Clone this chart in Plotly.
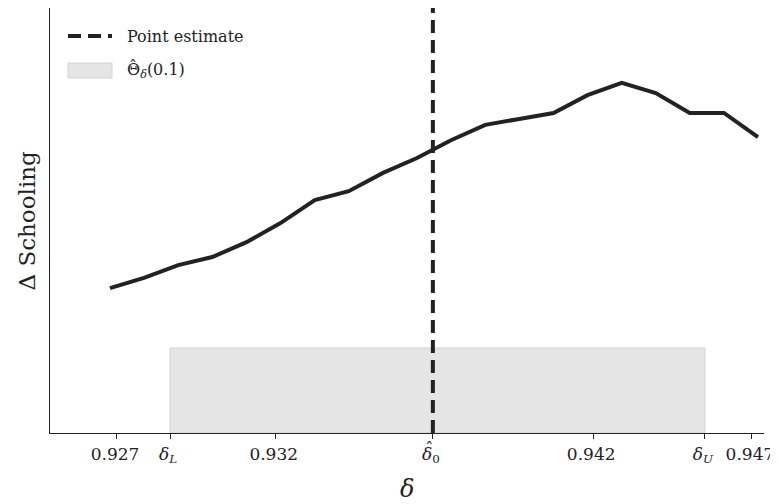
import plotly.graph_objects as go

# data
delta = [0.92678, 0.92785, 0.92893, 0.93000, 0.93108, 0.93215, 0.93323, 0.93430,
         0.93538, 0.93645, 0.93752, 0.93860, 0.93967, 0.94075, 0.94182, 0.94290,
         0.94397, 0.94504, 0.94612, 0.94719]
schooling = [0.341, 0.365, 0.395, 0.414, 0.449, 0.494, 0.548, 0.569, 0.612, 0.647,
             0.689, 0.725, 0.739, 0.753, 0.795, 0.824, 0.800, 0.753, 0.753, 0.696]
delta_L = 0.92867
delta_0 = 0.93695
delta_U = 0.94552
band_top = 0.20
y_range = [0.0, 1.0]
x_range = [0.92489, 0.94738]
tick_vals = [0.927, delta_L, 0.932, delta_0, 0.942, delta_U, 0.947]
tick_text = ["0.927", "<i>δ</i><sub><i>L</i></sub>", "0.932", "<i>δ</i><sub>0</sub>",
             "0.942", "<i>δ</i><sub><i>U</i></sub>", "0.947"]
legend_labels = ["Point estimate", "Θ<sub><i>δ</i></sub>(0.1)"]

FONT = "'DejaVu Serif', 'Liberation Serif', serif"
DARK = "#222222"
TXT = "#222222"

fig = go.Figure()

fig.add_trace(go.Scatter(
    x=[delta_L, delta_U, delta_U, delta_L, delta_L],
    y=[y_range[0], y_range[0], band_top, band_top, y_range[0]],
    fill="toself", fillcolor="#e5e5e5", mode="lines",
    line=dict(color="#d2d2d2", width=1), showlegend=False, hoverinfo="skip"))

fig.add_trace(go.Scatter(
    x=delta, y=schooling, mode="lines",
    line=dict(color=DARK, width=4), showlegend=False))

fig.add_trace(go.Scatter(
    x=[delta_0, delta_0], y=y_range, mode="lines",
    line=dict(color=DARK, width=4, dash="13px,7px"), showlegend=False))

# plot area in figure pixels: x 42..756, y 0..425
PW, PH, PL = 714.0, 425.0, 42.0
def px(xp):
    return (xp - PL) / PW
def py(yp):
    return 1 - yp / PH

shapes = [
    dict(type="line", xref="paper", yref="paper", x0=px(60), x1=px(104), y0=py(28), y1=py(28),
         line=dict(color=DARK, width=4, dash="13px,7px")),
    dict(type="rect", xref="paper", yref="paper", x0=px(60), x1=px(104), y0=py(70), y1=py(55),
         fillcolor="#e5e5e5", line=dict(color="#d2d2d2", width=1)),
]

annotations = [
    dict(text=legend_labels[0], xref="paper", yref="paper", x=px(117), y=py(28),
         xanchor="left", yanchor="middle", showarrow=False,
         font=dict(family=FONT, size=16, color=TXT)),
    dict(text=legend_labels[1], xref="paper", yref="paper", x=px(117), y=py(62),
         xanchor="left", yanchor="middle", showarrow=False,
         font=dict(family=FONT, size=16, color=TXT)),
    # hat over Theta
    dict(text="ˆ", xref="paper", yref="paper", x=px(125), y=py(58),
         xanchor="center", yanchor="middle", showarrow=False,
         font=dict(family=FONT, size=16, color=TXT)),
    # hat over delta_0 tick label
    dict(text="ˆ", xref="x", yref="paper", x=delta_0, y=0, yshift=-15, xshift=-3,
         xanchor="center", yanchor="middle", showarrow=False,
         font=dict(family=FONT, size=17, color=TXT)),
    dict(text="<i>δ</i>", xref="paper", yref="paper", x=0.5, y=0, yshift=-56,
         xanchor="center", yanchor="middle", showarrow=False,
         font=dict(family=FONT, size=24, color=TXT)),
    dict(text="Δ Schooling", xref="paper", yref="paper", x=0, y=0.5, xshift=-24,
         xanchor="center", yanchor="middle", showarrow=False, textangle=-90,
         font=dict(family=FONT, size=23, color=TXT)),
]

fig.update_layout(
    width=778, height=504,
    margin=dict(l=42, r=22, t=0, b=79),
    plot_bgcolor="white", paper_bgcolor="white",
    font=dict(family=FONT, color=TXT),
    showlegend=False,
    xaxis=dict(range=x_range, showgrid=False, zeroline=False, automargin=False,
               showline=True, linecolor=DARK, linewidth=1.3,
               ticks="outside", ticklen=5, tickcolor=DARK, tickwidth=1,
               tickmode="array", tickvals=tick_vals, ticktext=tick_text,
               ticklabelshift=-2,
               tickfont=dict(family=FONT, size=17, color=TXT)),
    yaxis=dict(range=y_range, showgrid=False, zeroline=False, automargin=False,
               showline=True, linecolor=DARK, linewidth=1.3,
               showticklabels=False, ticks=""),
    shapes=shapes,
    annotations=annotations,
)

fig.write_html("out.html")
